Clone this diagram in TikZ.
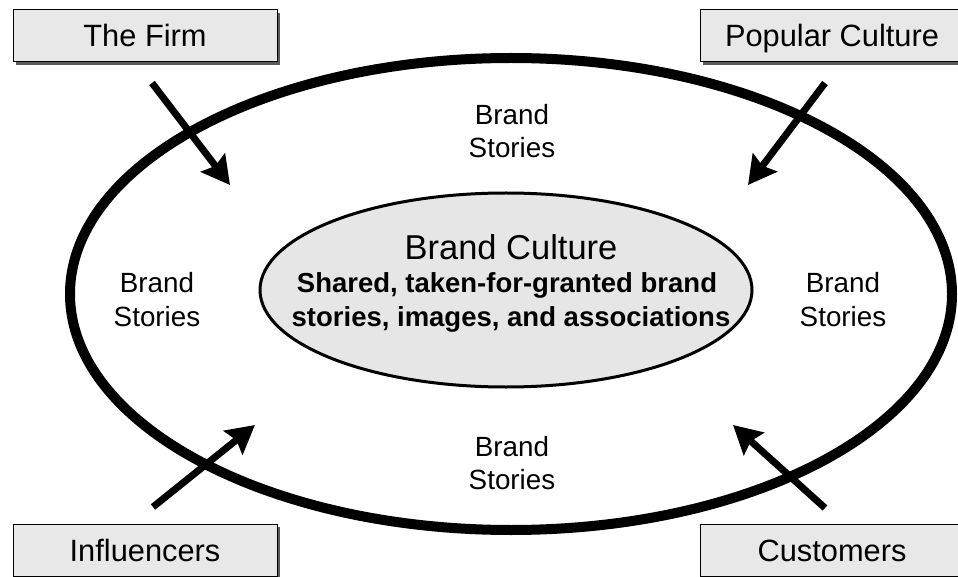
\documentclass[tikz,border=0pt]{standalone}
\usepackage{fontspec}
\setmainfont{Liberation Sans}
\usetikzlibrary{arrows.meta,shadows,shapes.geometric}
\definecolor{boxgray}{HTML}{E8E8E8}
\definecolor{shadowgray}{HTML}{5A5A5A}
\definecolor{coregray}{HTML}{E6E6E6}
\begin{document}
\begin{tikzpicture}[x=1pt,y=-1pt,
  srcbox/.style={draw=black, line width=1pt, fill=boxgray,
    minimum width=264pt, minimum height=52pt, inner sep=0pt,
    text height=22pt, text depth=0pt,
    font=\fontsize{30.8}{36}\selectfont,
    drop shadow={shadow xshift=3pt, shadow yshift=-3pt, fill=shadowgray, opacity=1}},
  storytxt/.style={anchor=base, inner sep=0pt, font=\fontsize{27.8}{32}\selectfont},
  coretitle/.style={anchor=base, inner sep=0pt, font=\fontsize{34.5}{40}\selectfont},
  corebold/.style={anchor=base, inner sep=0pt, font=\fontsize{27.5}{32}\selectfont\bfseries},
  flow/.style={line width=7pt, -{Stealth[length=28pt, width=30pt, inset=4pt]}}
]
\useasboundingbox (0,0) rectangle (958,577);
\clip (0,0) rectangle (958,577);
\fill[white] (0,0) rectangle (958,577);

% outer ellipse
\draw[line width=10pt] (511,294) ellipse [x radius=441, y radius=236];
% inner ellipse
\node[draw=black, line width=3pt, fill=coregray, ellipse, minimum width=492pt, minimum height=194pt, inner sep=0pt] (core) at (506,290) {};
\node[coretitle] (ctitle) at (511,260) {Brand Culture};
\node[corebold] (cl1) at (507,293) {Shared, taken-for-granted brand};
\node[corebold] (cl2) at (511,326) {stories, images, and associations};

% brand stories labels
\node[storytxt] (tA) at (512,125) {Brand};
\node[storytxt] (tB) at (512,158) {Stories};
\node[storytxt] (lA) at (157,293) {Brand};
\node[storytxt] (lB) at (157,326) {Stories};
\node[storytxt] (rA) at (843,293) {Brand};
\node[storytxt] (rB) at (843,326) {Stories};
\node[storytxt] (bA) at (512,456) {Brand};
\node[storytxt] (bB) at (512,489) {Stories};

% source boxes
\node[srcbox] (firm) at (145,36) {The Firm};
\node[srcbox] (pop) at (832,36) {Popular Culture};
\node[srcbox] (infl) at (145,550) {Influencers};
\node[srcbox] (cust) at (832,550) {Customers};

% arrows
\coordinate (firmS) at (152,83);
\coordinate (firmE) at (230,185);
\coordinate (popS) at (825,83);
\coordinate (popE) at (748,185);
\coordinate (inflS) at (153,507);
\coordinate (inflE) at (255,425);
\coordinate (custS) at (825,508);
\coordinate (custE) at (733,425);
\draw[flow] (firmS) -- (firmE);
\draw[flow] (popS) -- (popE);
\draw[flow] (inflS) -- (inflE);
\draw[flow] (custS) -- (custE);
\end{tikzpicture}
\end{document}
